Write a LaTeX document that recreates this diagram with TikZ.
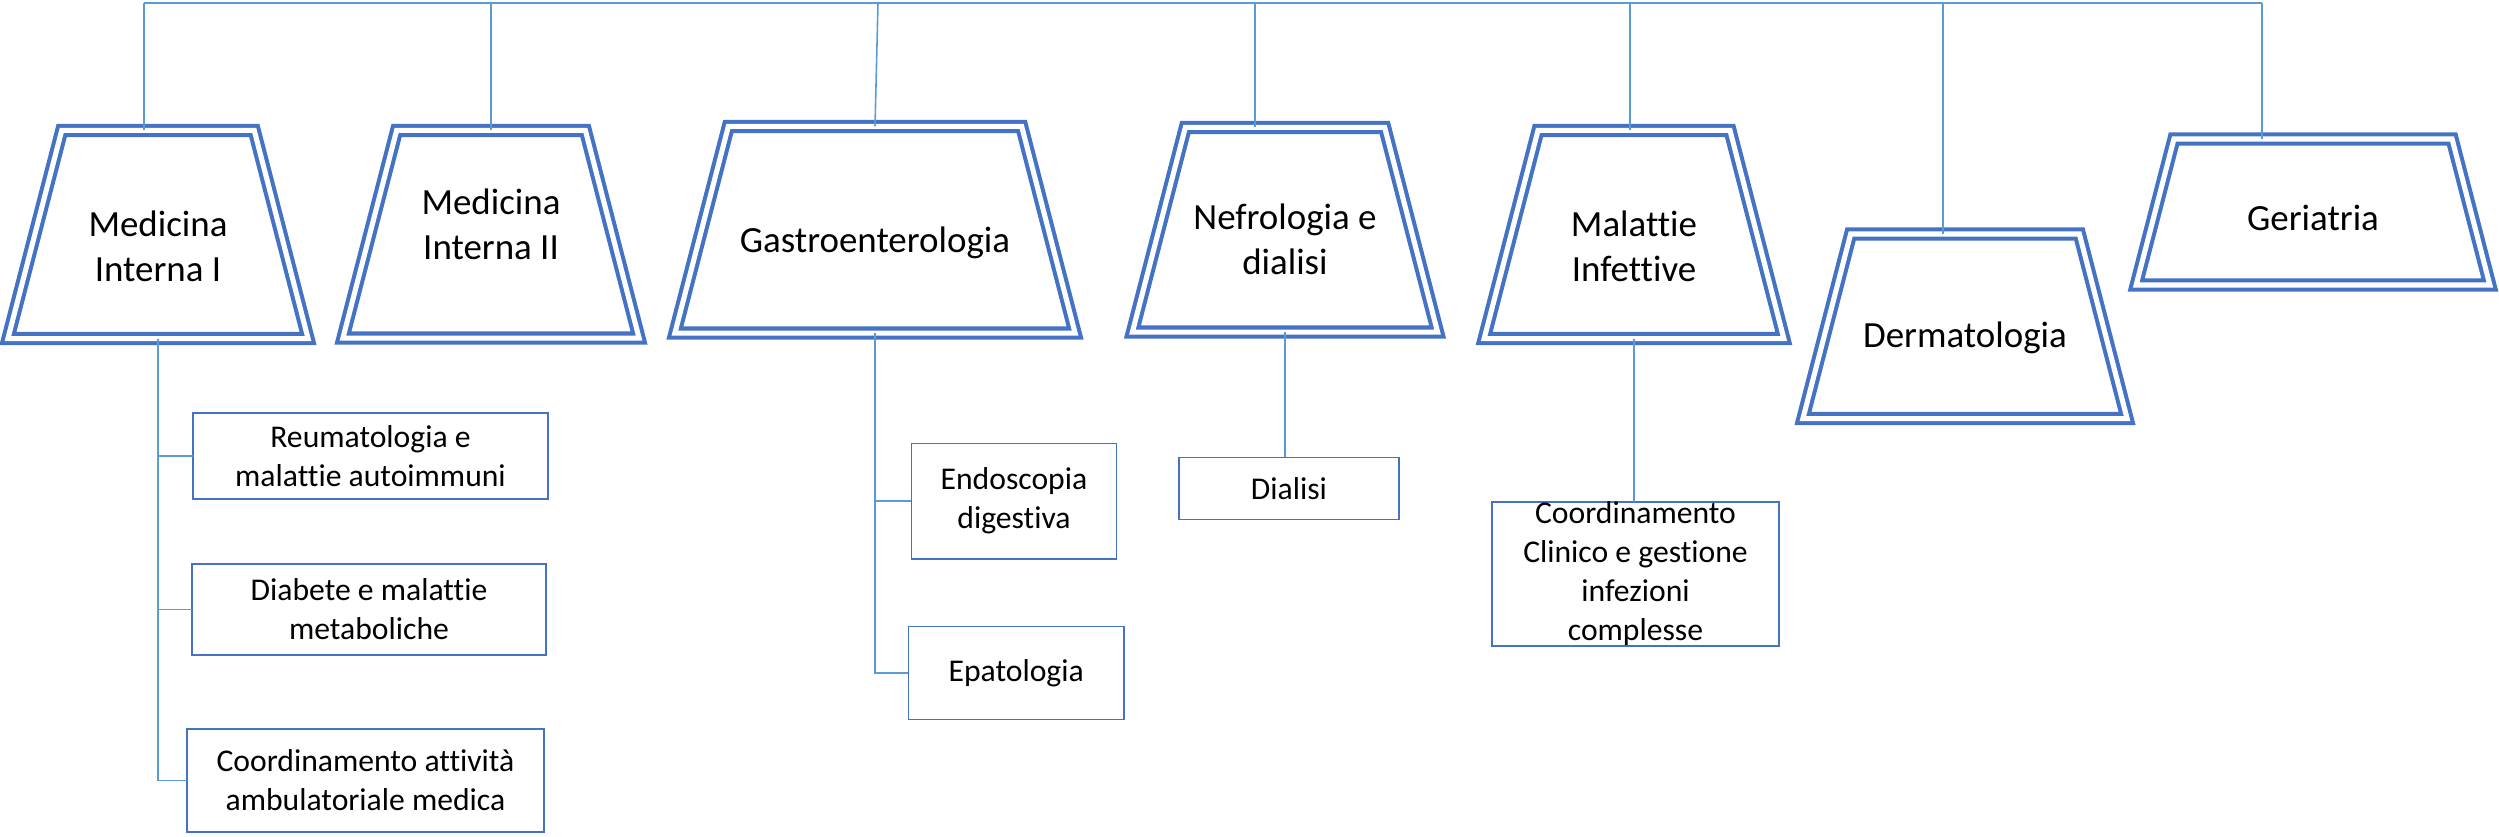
\documentclass[tikz,border=0pt]{standalone}
\usepackage{fontspec}
\setmainfont{Carlito}[Ligatures=NoCommon]
\usetikzlibrary{calc}
\definecolor{deptblue}{HTML}{4472C4}
\definecolor{linkblue}{HTML}{5B9BD5}

\begin{document}
\begin{tikzpicture}[x=0.01cm,y=-0.01cm,
  dept/.style={rectangle, inner sep=0pt, outer sep=0pt},
  deptline/.style={draw=deptblue, line width=1.15pt, double=white, double distance=1.45pt},
  deptname/.style={align=center, inner sep=0pt, font=\fontsize{10.5}{12.8}\selectfont},
  unit/.style={draw=deptblue, line width=0.4pt, align=center, inner sep=0pt, outer sep=0pt,
    font=\fontsize{9}{11.1}\selectfont},
  link/.style={draw=linkblue, line width=0.45pt}]
\useasboundingbox (0,0) rectangle (2499,836);

% Departments
\node[dept, minimum width=3cm, minimum height=2.08cm] (mi1) at (158,234.5) {};
\node[dept, minimum width=2.96cm, minimum height=2.075cm] (mi2) at (491,234.25) {};
\node[dept, minimum width=4cm, minimum height=2.065cm] (gastro) at (875,229.75) {};
\node[dept, minimum width=3.05cm, minimum height=2.045cm] (nefro) at (1285,229.75) {};
\node[dept, minimum width=2.995cm, minimum height=2.08cm] (malinf) at (1634,234.5) {};
\node[dept, minimum width=3.24cm, minimum height=1.845cm] (derma) at (1965,326.25) {};
\node[dept, minimum width=3.535cm, minimum height=1.46cm] (geria) at (2313,212) {};

% trapezium outline, sides at 75.5 degrees
\foreach \d in {mi1,mi2,gastro,nefro,malinf,derma,geria}
  \draw[deptline] let \p1=(\d.north west), \p2=(\d.south east), \n1={0.2586*(\y1-\y2)} in
    (\x1+\n1*1pt,\y1) -- (\x2-\n1*1pt,\y1) -- (\x2,\y2) -- (\x1,\y2) -- cycle;

\node[deptname] (mi1t) at (158,246.75) {Medicina\\Interna I};
\node[deptname] (mi2t) at (491,224.75) {Medicina\\Interna II};
\node[deptname] (gastrot) at (875,243) {Gastroenterologia};
\node[deptname] (nefrot) at (1285,239.75) {Nefrologia e\\dialisi};
\node[deptname] (malinft) at (1634,246.75) {Malattie\\Infettive};
\node[deptname] (dermat) at (1965,338) {Dermatologia};
\node[deptname] (geriat) at (2313,218) {Geriatria};

% Top connector
\coordinate (t1) at (144,3);
\coordinate (t2) at (491,3);
\coordinate (t3) at (878,3);
\coordinate (t4) at (1255,3);
\coordinate (t5) at (1630,3);
\coordinate (t6) at (1943,3);
\coordinate (t7) at (2262,3);
\draw[link] (t1) -- (t7);
\foreach \t/\d in {t1/mi1, t2/mi2, t4/nefro, t5/malinf, t6/derma, t7/geria}
  \draw[link] (\t) -- (\t |- \d.north);
\draw[link] (t3) -- (gastro.north);

% Medicina Interna I
\node[unit, minimum width=3.55cm, minimum height=0.86cm] (reuma) at (370.5,456) {Reumatologia e\\malattie autoimmuni};
\node[unit, minimum width=3.54cm, minimum height=0.91cm] (diab) at (369,609.5) {Diabete e malattie\\metaboliche};
\node[unit, minimum width=3.57cm, minimum height=1.03cm] (ambul) at (365.5,780.5) {Coordinamento attività\\ambulatoriale medica};
\draw[link] (mi1.south) |- (ambul.west);
\foreach \d in {reuma, diab}
  \draw[link] (mi1.south |- \d.west) -- (\d.west);

% Gastroenterologia
\node[unit, minimum width=2.05cm, minimum height=1.157cm] (endo) at (1014,501.2) {Endoscopia\\digestiva};
\node[unit, minimum width=2.155cm, minimum height=0.926cm] (epato) at (1016.25,673) {Epatologia};
\draw[link] (gastro.south) |- (epato.west);
\draw[link] (gastro.south |- endo.west) -- (endo.west);

% Nefrologia e dialisi
\node[unit, minimum width=2.2cm, minimum height=0.62cm] (dial) at (1289,488.3) {Dialisi};
\draw[link] (nefro.south) -- (nefro.south |- dial.north);

% Malattie Infettive
\node[unit, minimum width=2.87cm, minimum height=1.44cm] (clinico) at (1635.5,574) {Coordinamento\\Clinico e gestione\\infezioni\\complesse};
\draw[link] (malinf.south) -- (malinf.south |- clinico.north);
\end{tikzpicture}
\end{document}
